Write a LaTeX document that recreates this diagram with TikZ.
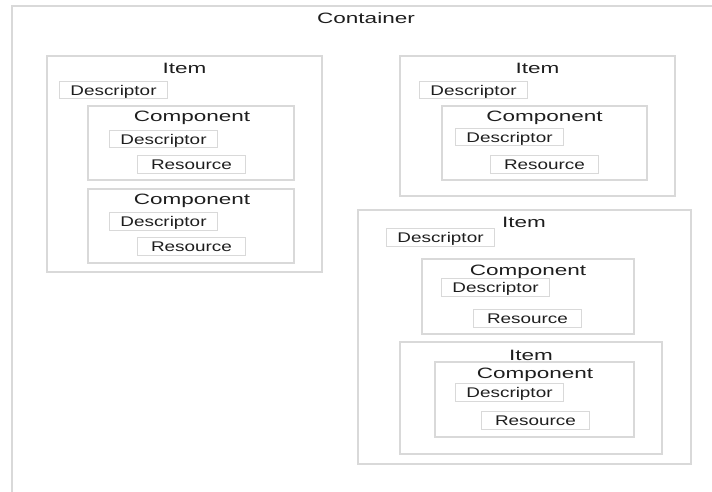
\documentclass[tikz,border=0pt]{standalone}
\usepackage{fontspec}
\setmainfont{Liberation Sans}[FakeStretch=1.35]
\newfontfamily\titlefont{Liberation Sans}[FakeStretch=1.5]
\usepackage{xcolor}
\usepackage{tikz}
\usetikzlibrary{positioning, fit}
\definecolor{edge}{HTML}{D9D9D9}
\definecolor{ink}{HTML}{1E1E1E}

\begin{document}
\begin{tikzpicture}[
    x=1pt, y=-1pt,
    frame/.style={rectangle, draw=edge, line width=1.2pt, inner sep=0pt},
    tag/.style={rectangle, draw=edge, line width=1pt, anchor=north west, minimum width=108pt, minimum height=17.5pt, inner sep=0pt, text height=11.5pt, text depth=1.5pt, text=ink, font=\fontsize{14}{14}\selectfont},
    title/.style={text=ink, inner sep=0pt, font=\titlefont\fontsize{15}{15}\selectfont}
]
\useasboundingbox (0,0) rectangle (712,492);

% container, open at the right and bottom
\coordinate (ctl) at (12,6);
\coordinate (ctr) at (712,6);
\coordinate (cbl) at (12,492);
\draw[edge, line width=1.5pt] (ctr) -- (ctl) -- (cbl);
\node[title] (container) at (366,18) {Container};

% left item
\node[frame, fit={(47,56) (322,272)}] (item1) {};
\node[title] (item1t) at (184.5,68) {Item};
\node[tag] (item1d) at (59,81) {Descriptor};
\node[frame, fit={(88,106) (294,180)}] (comp1) {};
\node[title] (comp1t) at (192,118) {Component};
\node[tag] (comp1d) at (109,130) {Descriptor};
\node[tag] (comp1r) at (137,155) {Resource};
\node[frame, fit={(88,189) (294,263)}] (comp2) {};
\node[title] (comp2t) at (192,201) {Component};
\node[tag] (comp2d) at (109,212) {Descriptor};
\node[tag] (comp2r) at (137,237) {Resource};

% top right item
\node[frame, fit={(400,56) (675,196)}] (item2) {};
\node[title] (item2t) at (537.5,68) {Item};
\node[tag] (item2d) at (419,81) {Descriptor};
\node[frame, fit={(442,106) (647,180)}] (comp3) {};
\node[title] (comp3t) at (544.5,118) {Component};
\node[tag] (comp3d) at (455,128) {Descriptor};
\node[tag] (comp3r) at (490,155) {Resource};

% bottom right item
\node[frame, fit={(358,210) (691,464)}] (item3) {};
\node[title] (item3t) at (524,222) {Item};
\node[tag] (item3d) at (386,228) {Descriptor};
\node[frame, fit={(422,259) (634,334)}] (comp4) {};
\node[title] (comp4t) at (528,272) {Component};
\node[tag] (comp4d) at (441,278) {Descriptor};
\node[tag] (comp4r) at (473,309) {Resource};

% nested item
\node[frame, fit={(400,342) (662,454)}] (item4) {};
\node[title] (item4t) at (531,355) {Item};
\node[frame, fit={(435,362) (634,437)}] (comp5) {};
\node[title] (comp5t) at (535,375) {Component};
\node[tag] (comp5d) at (455,383) {Descriptor};
\node[tag] (comp5r) at (481,411) {Resource};

\end{tikzpicture}
\end{document}
